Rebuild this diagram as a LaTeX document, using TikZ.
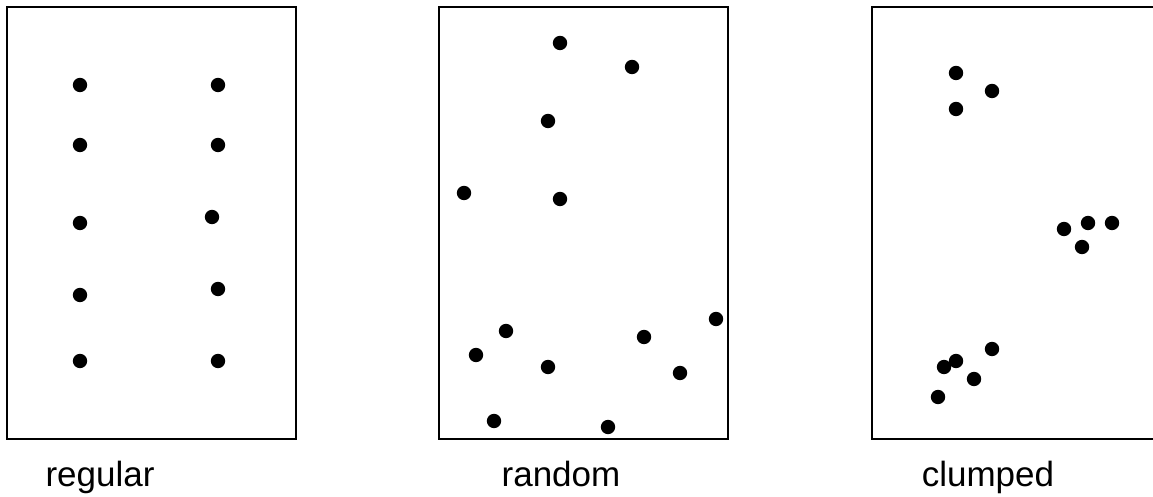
\documentclass[tikz,border=0pt]{standalone}
\usepackage{fontspec}
\setmainfont{Liberation Sans}
\begin{document}
\begin{tikzpicture}[x=0.5pt, y=-0.5pt,
  plot/.style={draw, line width=1pt},
  dot/.style={circle, fill=black, inner sep=0pt, minimum size=7.2pt},
  lbl/.style={font=\fontsize{17.5}{21}\selectfont, anchor=base},
]
  \clip (0,0) rectangle (1153,497);

  % three sample plots
  \draw[plot] (7,7) rectangle (296,439);
  \draw[plot] (439,7) rectangle (728,439);
  \draw[plot] (872,7) rectangle (1161,439);

  % regular
  \foreach \px/\py [count=\i] in {80/85, 218/85, 80/145, 218/145, 80/223, 212/217,
                                  80/295, 218/289, 80/361, 218/361}
    \node[dot] (reg\i) at (\px,\py) {};

  % random
  \foreach \px/\py [count=\i] in {560/43, 632/67, 548/121, 464/193, 560/199,
                                  716/319, 506/331, 644/337, 476/355, 548/367,
                                  680/373, 494/421, 608/427}
    \node[dot] (rnd\i) at (\px,\py) {};

  % clumped
  \foreach \px/\py [count=\i] in {956/73, 992/91, 956/109,
                                  1064/229, 1088/223, 1112/223, 1082/247,
                                  992/349, 956/361, 944/367, 974/379, 938/397}
    \node[dot] (clm\i) at (\px,\py) {};

  \node[lbl] (regular) at (100,487) {regular};
  \node[lbl] (random) at (561,487) {random};
  \node[lbl] (clumped) at (988,487) {clumped};
\end{tikzpicture}
\end{document}
